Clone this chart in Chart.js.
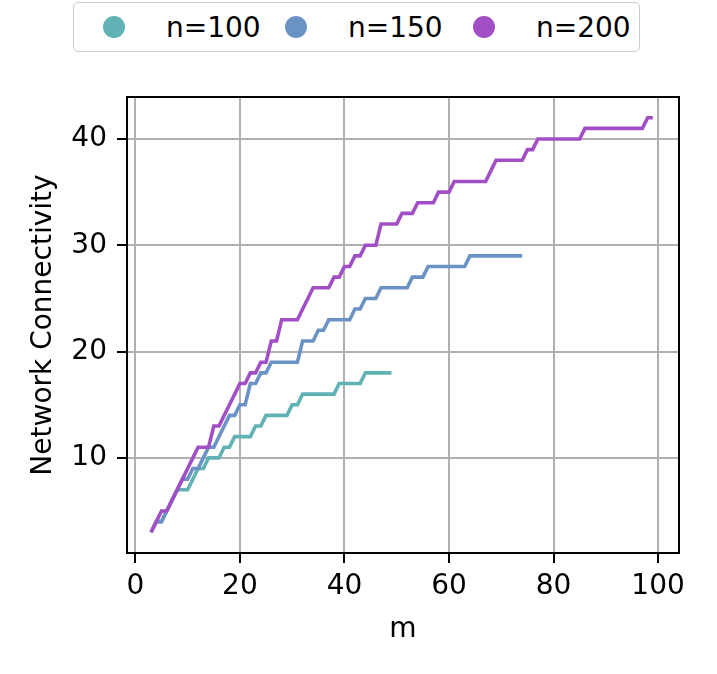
<!DOCTYPE html>
<html>
<head>
<meta charset="utf-8">
<script src="https://cdn.jsdelivr.net/npm/chart.js@4.4.0/dist/chart.umd.min.js"></script>
<style>
html,body{margin:0;padding:0;background:#ffffff;}
#wrap{position:relative;width:717px;height:674px;overflow:hidden;}
#c{position:absolute;left:0;top:0;}
#legendBox{position:absolute;left:73px;top:2px;width:567px;height:50px;box-sizing:border-box;border:1.5px solid #cccccc;border-radius:5px;background:#fff;}
.dot{position:absolute;width:22px;height:22px;border-radius:50%;top:16px;}
.lab{position:absolute;top:14px;font-family:"DejaVu Sans";font-size:28px;line-height:28px;color:#000;white-space:nowrap;}
</style>
</head>
<body>
<div id="wrap">
  <canvas id="c" width="717" height="674"></canvas>
  <div id="legendBox"></div>
</div>
<script>
// ---- data ----
const seriesNames = ["n=100", "n=150", "n=200"];
const seriesColors = ["#60b2b4", "#6b92c4", "#a24fc6"];

const mValues = [3,4,5,6,7,8,9,10,11,12,13,14,15,16,17,18,19,20,21,22,23,24,25,26,27,28,29,30,
  31,32,33,34,35,36,37,38,39,40,41,42,43,44,45,46,47,48,49,50,51,52,53,54,55,56,57,58,59,60,
  61,62,63,64,65,66,67,68,69,70,71,72,73,74,75,76,77,78,79,80,81,82,83,84,85,86,87,88,89,90,
  91,92,93,94,95,96,97,98,99];

const conn100 = [3,4,4,5,6,7,7,7,8,9,9,10,10,10,11,11,12,12,12,12,13,13,14,14,14,14,14,15,15,
  16,16,16,16,16,16,16,17,17,17,17,17,18,18,18,18,18,18];

const conn150 = [3,4,4,5,6,7,8,8,9,9,10,11,11,12,13,14,14,15,15,17,17,18,18,
  19,19,19,19,19,19,21,21,21,22,22,23,23,23,23,23,24,24,25,25,25,
  26,26,26,26,26,26,27,27,27,28,28,28,28,28,28,28,28,
  29,29,29,29,29,29,29,29,29,29,29];

const conn200 = [3,4,5,5,6,7,8,9,10,11,11,11,13,13,14,15,16,17,17,18,18,19,19,21,21,
  23,23,23,23,24,25,26,26,26,26,27,27,28,28,29,29,30,30,30,32,32,32,32,33,33,33,
  34,34,34,34,35,35,35,36,36,36,36,36,36,36,37,38,38,38,38,38,38,39,39,
  40,40,40,40,40,40,40,40,40,41,41,41,41,41,41,41,41,41,41,41,41,42,42];

const xTicks = [0, 20, 40, 60, 80, 100];
const yTicks = [10, 20, 30, 40];
const xLabel = "m";
const yLabel = "Network Connectivity";

// ---- build ----
const allSeries = [conn100, conn150, conn200];
const datasets = allSeries.map((ys, i) => ({
  label: seriesNames[i],
  data: ys.map((y, k) => ({x: mValues[k], y: y})),
  borderColor: seriesColors[i],
  backgroundColor: seriesColors[i],
  borderWidth: 3.6,
  pointRadius: 0,
  tension: 0,
  fill: false,
  order: 3 - i
}));

// HTML legend (real text)
const legendPos = [{dot:103, lab:166}, {dot:285, lab:348}, {dot:473, lab:536}];
const wrap = document.getElementById('wrap');
seriesNames.forEach((name, i) => {
  const d = document.createElement('div');
  d.className = 'dot';
  d.style.left = legendPos[i].dot + 'px';
  d.style.background = seriesColors[i];
  wrap.appendChild(d);
  const t = document.createElement('div');
  t.className = 'lab';
  t.style.left = legendPos[i].lab + 'px';
  t.textContent = name;
  wrap.appendChild(t);
});

const framePlugin = {
  id: 'frame',
  afterDraw(chart) {
    const {ctx, chartArea: a} = chart;
    ctx.save();
    ctx.strokeStyle = '#000';
    ctx.lineWidth = 2;
    ctx.strokeRect(a.left, a.top, a.right - a.left, a.bottom - a.top);
    ctx.restore();
  }
};

const font = {family: 'DejaVu Sans', size: 28};

new Chart(document.getElementById('c'), {
  type: 'line',
  data: {datasets},
  options: {
    responsive: false,
    animation: false,
    devicePixelRatio: 1,
    layout: {padding: {left: 0, top: 97, right: 38, bottom: 0}},
    plugins: {legend: {display: false}, tooltip: {enabled: false}},
    scales: {
      x: {
        type: 'linear',
        min: -1.6, max: 104.0,
        afterBuildTicks: s => { s.ticks = xTicks.map(v => ({value: v})); },
        afterFit: s => { s.height = 121; },
        grid: {color: '#b0b0b0', lineWidth: 2, tickLength: 10, tickColor: '#000', tickWidth: 2, drawTicks: true},
        border: {display: true, color: '#000', width: 2},
        ticks: {font, color: '#000', padding: 7, maxRotation: 0, autoSkip: false},
        title: {display: true, text: xLabel, font, color: '#000', padding: {top: 0, bottom: 27}}
      },
      y: {
        type: 'linear',
        min: 1.05, max: 43.95,
        afterBuildTicks: s => { s.ticks = yTicks.map(v => ({value: v})); },
        afterFit: s => { s.width = 127; },
        grid: {color: '#b0b0b0', lineWidth: 2, tickLength: 10, tickColor: '#000', tickWidth: 2, drawTicks: true},
        border: {display: true, color: '#000', width: 2},
        ticks: {font, color: '#000', padding: 10, autoSkip: false},
        title: {display: true, text: yLabel, font, color: '#000', padding: {top: 27, bottom: 0}}
      }
    }
  },
  plugins: [framePlugin]
});
</script>
</body>
</html>
